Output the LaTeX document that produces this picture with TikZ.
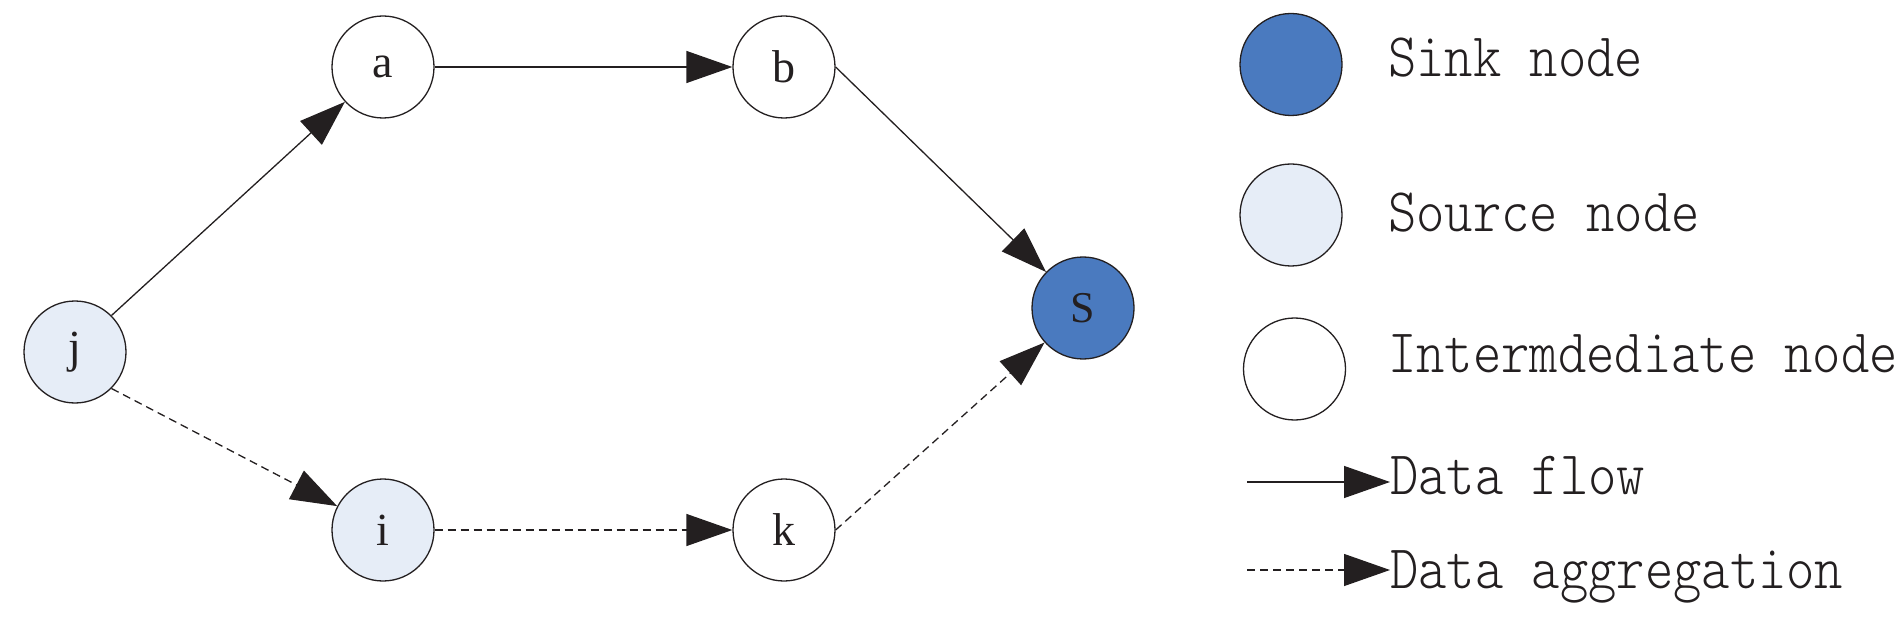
\documentclass[tikz,border=0pt]{standalone}
\usepackage{fontspec}
\usepackage{graphicx}
\setmainfont{Liberation Serif}
\newfontfamily\legfont{lmmonolt10-regular.otf}
\usetikzlibrary{arrows.meta}
\definecolor{sinkblue}{RGB}{74,122,191}
\definecolor{srcfill}{RGB}{230,237,247}
\definecolor{ink}{RGB}{35,31,32}
\begin{document}
\begin{tikzpicture}[x=1pt,y=-1pt,
  nodecirc/.style={circle,draw=ink,line width=1.3pt,minimum size=102pt,inner sep=0pt,font=\fontsize{46}{50}\selectfont,text=ink},
  sinknode/.style={nodecirc,fill=sinkblue},
  srcnode/.style={nodecirc,fill=srcfill},
  midnode/.style={nodecirc,fill=white},
  flow/.style={draw=ink,line width=1.3pt,-{Triangle[length=46pt,width=32pt]}},
  aggr/.style={flow,dash pattern=on 8pt off 5pt},
  legtext/.style={anchor=base west,inner sep=0pt,text=ink,font=\legfont\fontsize{62}{66}\selectfont}
]
\useasboundingbox (0,0) rectangle (1903,620);
% graph nodes
\node[midnode] (a) at (383,67) {a};
\node[midnode] (b) at (784,67) {b};
\node[srcnode] (j) at (75,352) {j};
\node[srcnode] (i) at (383,530) {i};
\node[midnode] (k) at (784,530) {k};
\node[sinknode,font=\fontsize{44}{48}\selectfont] (s) at (1083,308) {S};
% edges
\draw[flow] (j.north east) -- (a);
\draw[flow] (a.east) -- (b);
\draw[flow] (b.east) -- (s);
\draw[aggr] (j.south east) -- (i);
\draw[aggr] (i.east) -- (k);
\draw[aggr] (k.east) -- (s);
% legend
\node[sinknode] (lsink) at (1291,64.5) {};
\node[srcnode] (lsrc) at (1291,215) {};
\node[midnode] (lmid) at (1294.5,369) {};
\node[legtext] (tsink) at (1388,77) {\scalebox{0.87}[1]{Sink node}};
\node[legtext] (tsrc) at (1388,232) {\scalebox{0.87}[1]{Source node}};
\node[legtext] (tmid) at (1388,372) {\scalebox{0.87}[1]{Intermdediate node}};
\coordinate (lf0) at (1247,482);
\coordinate (lf1) at (1390,482);
\coordinate (la0) at (1247,570);
\coordinate (la1) at (1390,570);
\draw[flow] (lf0) -- (lf1);
\draw[aggr] (la0) -- (la1);
\node[legtext] (tflow) at (1390,494) {\scalebox{0.87}[1]{Data flow}};
\node[legtext] (taggr) at (1390,588) {\scalebox{0.87}[1]{Data aggregation}};
\end{tikzpicture}
\end{document}
